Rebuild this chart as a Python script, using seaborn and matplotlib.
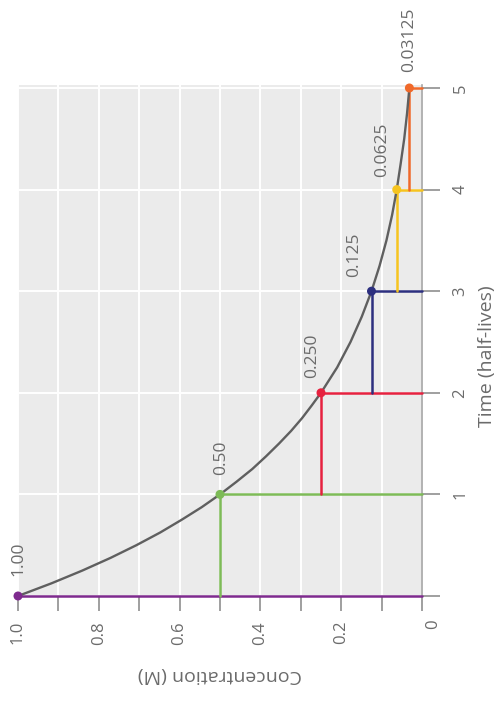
import matplotlib
matplotlib.use("Agg")
import matplotlib.pyplot as plt
import seaborn as sns
import numpy as np

# half-life points
half_lives = [0, 1, 2, 3, 4, 5]
concentration = [1.00, 0.50, 0.250, 0.125, 0.0625, 0.03125]
point_labels = ["1.00", "0.50", "0.250", "0.125", "0.0625", "0.03125"]
point_colors = ["#7e2a8e", "#7dbb57", "#e6213f", "#2c2f7f", "#f6c41f", "#f0692a"]

curve_time = [0, 0.125, 0.25, 0.375, 0.5, 0.625, 0.75, 0.875, 1, 1.125, 1.25, 1.375,
              1.5, 1.625, 1.75, 1.875, 2, 2.25, 2.5, 2.75, 3, 3.25, 3.5, 3.75,
              4, 4.25, 4.5, 4.75, 5]
curve_conc = [1.000, 0.917, 0.841, 0.771, 0.707, 0.648, 0.595, 0.545, 0.500, 0.459, 0.420, 0.386,
              0.354, 0.324, 0.297, 0.273, 0.250, 0.210, 0.177, 0.149, 0.125, 0.105, 0.088, 0.074,
              0.0625, 0.053, 0.044, 0.037, 0.03125]

conc_ticks = [1.0, 0.9, 0.8, 0.7, 0.6, 0.5, 0.4, 0.3, 0.2, 0.1, 0.0]
conc_ticklabels = ["1.0", "", "0.8", "", "0.6", "", "0.4", "", "0.2", "", ""]
time_ticks = [0, 1, 2, 3, 4, 5]
time_ticklabels = ["", "1", "2", "3", "4", "5"]

text_color = "#6b6b6b"

sns.set_theme(style="darkgrid", rc={"axes.facecolor": "#ebebeb",
                                    "grid.color": "white",
                                    "grid.linewidth": 1.4})
plt.rcParams['font.family'] = ['Open Sans', 'DejaVu Sans']

fig = plt.figure(figsize=(5, 7.02), dpi=100)
ax = fig.add_axes([0.036, 0.151, 0.808, 0.728])

# chart is drawn turned a quarter turn: concentration runs right-to-left, time runs upward
# colored step segments
for n, (t, c, col) in enumerate(zip(half_lives, concentration, point_colors)):
    if n > 0:
        ax.plot([c, c], [t - 1, t], color=col, lw=1.8, clip_on=False, zorder=3)
    ax.plot([c, 0], [t, t], color=col, lw=1.8, clip_on=False, zorder=3)

sns.lineplot(x=curve_conc, y=curve_time, color="#5f5f5f", lw=1.7,
             sort=False, estimator=None, ax=ax, zorder=4)

sns.scatterplot(x=concentration, y=half_lives, hue=point_labels,
                palette=dict(zip(point_labels, point_colors)), s=42,
                linewidth=0, legend=False, ax=ax, zorder=5, clip_on=False)

# value labels beside each point (offsets in pixels)
offsets = [(0, 20), (1, 19), (-9, 15), (-17, 14), (-15, 13), (0, 16)]
for lab, c, t, (dx, dy) in zip(point_labels, concentration, half_lives, offsets):
    ax.annotate(lab, xy=(c, t), xytext=(dx, dy), textcoords="offset pixels",
                rotation=90, ha="center", va="bottom", fontsize=12.5, color=text_color)

ax.set_xlim(1.0, 0.0)
ax.set_ylim(0, 5.03)

ax.set_xticks(conc_ticks)
ax.set_xticklabels(conc_ticklabels)
ax.set_yticks(time_ticks)
ax.set_yticklabels(time_ticklabels)
ax.yaxis.tick_right()

ax.tick_params(axis="x", bottom=True, length=11, width=1.2, color="#8f8f8f",
               pad=7, labelrotation=90, labelsize=12, labelcolor=text_color)
ax.tick_params(axis="y", right=True, left=False, length=13, width=1.2, color="#8f8f8f",
               pad=9, labelrotation=90, labelsize=12, labelcolor=text_color)
for lab in ax.get_yticklabels():
    lab.set_va("center")

# shared corner zero
ax.annotate("0", xy=(0, 0), xytext=(11, -28), textcoords="offset pixels",
            rotation=90, ha="center", va="center", fontsize=12, color=text_color,
            annotation_clip=False)

for side in ["top", "left", "bottom"]:
    ax.spines[side].set_visible(False)
ax.spines["right"].set_color("#a5a5a5")
ax.spines["right"].set_linewidth(1.2)

ax.set_xlabel("Concentration (M)", rotation=180, fontsize=14, color=text_color)
ax.xaxis.set_label_coords(0.5, -0.155)
ax.xaxis.label.set_va("center")
ax.set_ylabel("Time (half-lives)", rotation=90, fontsize=14, color=text_color)
ax.yaxis.set_label_position("right")
ax.yaxis.set_label_coords(1.161, 0.47)
ax.yaxis.label.set_va("center")
ax.yaxis.label.set_ha("center")

fig.savefig("out.png", dpi=100)
